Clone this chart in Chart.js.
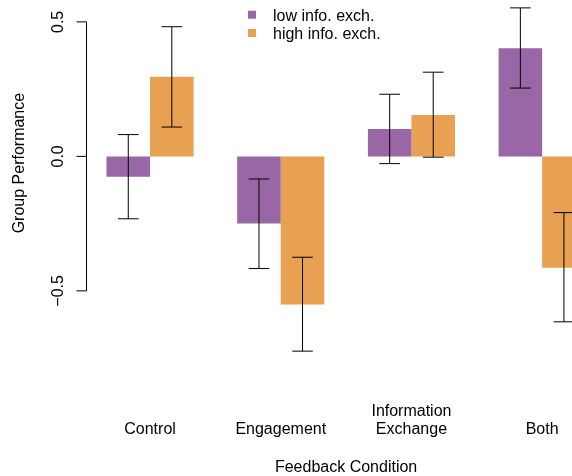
<!DOCTYPE html>
<html>
<head>
<meta charset="utf-8">
<script src="https://cdn.jsdelivr.net/npm/chart.js@4.4.0/dist/chart.umd.min.js"></script>
<style>
  html, body { margin: 0; padding: 0; background: #fff; }
  #wrap { position: relative; width: 572px; height: 476px; overflow: hidden; }
  #chart { position: absolute; left: 0; top: -33px; }
</style>
</head>
<body>
<div id="wrap"><canvas id="chart" width="620" height="509"></canvas></div>
<script>
// data
const categories = ['Control', 'Engagement', ['Information', 'Exchange'], 'Both'];
const seriesNames = ['low info. exch.', 'high info. exch.'];
const lowValues = [-0.076, -0.250, 0.102, 0.402];
const highValues = [0.296, -0.551, 0.154, -0.414];
const lowErrLower = [-0.232, -0.417, -0.027, 0.254];
const lowErrUpper = [0.081, -0.084, 0.231, 0.552];
const highErrLower = [0.109, -0.724, -0.003, -0.615];
const highErrUpper = [0.482, -0.375, 0.313, -0.209];
const yTickValues = [-0.5, 0, 0.5];
const yTickLabels = ['\u22120.5', '0.0', '0.5'];

const SHIFT = 33; // canvas is moved up so the plot region can start above the window
const FONT = '"Liberation Sans", Arial, Helvetica, sans-serif';
Chart.defaults.font.family = FONT;
Chart.defaults.font.size = 16;
Chart.defaults.color = '#000';

// R style y axis: line only between first and last tick
const rAxis = {
    id: 'rAxis',
    afterDraw(chart) {
        const ctx = chart.ctx;
        const y = chart.scales.y;
        const x = chart.chartArea.left + 1.8;
        ctx.save();
        ctx.strokeStyle = '#000';
        ctx.lineWidth = 1;
        ctx.beginPath();
        ctx.moveTo(x, y.getPixelForValue(yTickValues[0]));
        ctx.lineTo(x, y.getPixelForValue(yTickValues[yTickValues.length - 1]));
        yTickValues.forEach(function(v) {
            const py = y.getPixelForValue(v);
            ctx.moveTo(x - 10, py);
            ctx.lineTo(x, py);
        });
        ctx.stroke();
        ctx.restore();
    }
};

// error bars with caps
const errorBars = {
    id: 'errorBars',
    afterDatasetsDraw(chart) {
        const ctx = chart.ctx;
        const y = chart.scales.y;
        ctx.save();
        ctx.strokeStyle = '#000';
        ctx.lineWidth = 1;
        chart.data.datasets.forEach(function(ds, d) {
            chart.getDatasetMeta(d).data.forEach(function(bar, i) {
                const y1 = y.getPixelForValue(ds.errLower[i]);
                const y2 = y.getPixelForValue(ds.errUpper[i]);
                ctx.beginPath();
                ctx.moveTo(bar.x, y1);
                ctx.lineTo(bar.x, y2);
                ctx.moveTo(bar.x - 10.3, y1);
                ctx.lineTo(bar.x + 10.3, y1);
                ctx.moveTo(bar.x - 10.3, y2);
                ctx.lineTo(bar.x + 10.3, y2);
                ctx.stroke();
            });
        });
        ctx.restore();
    }
};

// legend like R's legend() without a box
const rLegend = {
    id: 'rLegend',
    afterDraw(chart) {
        const ctx = chart.ctx;
        ctx.save();
        ctx.font = '16px ' + FONT;
        ctx.textBaseline = 'alphabetic';
        chart.data.datasets.forEach(function(ds, i) {
            const base = SHIFT + 20.7 + i * 18.3;
            ctx.fillStyle = ds.backgroundColor;
            ctx.fillRect(248, base - 10, 8, 8);
            ctx.fillStyle = '#000';
            ctx.fillText(ds.label, 273, base);
        });
        ctx.restore();
    }
};

const ctx = document.getElementById('chart').getContext('2d');
const chart = new Chart(ctx, {
    type: 'bar',
    data: {
        labels: categories,
        datasets: [{
            label: seriesNames[0],
            data: lowValues,
            errLower: lowErrLower,
            errUpper: lowErrUpper,
            backgroundColor: '#9966A6',
            borderWidth: 0
        }, {
            label: seriesNames[1],
            data: highValues,
            errLower: highErrLower,
            errUpper: highErrUpper,
            backgroundColor: '#E8A053',
            borderWidth: 0
        }]
    },
    options: {
        responsive: false,
        animation: false,
        devicePixelRatio: 1,
        categoryPercentage: 0.6665,
        barPercentage: 1,
        layout: {
            padding: { left: 0, top: 0, right: 12.5, bottom: 0 }
        },
        plugins: {
            legend: { display: false },
            tooltip: { enabled: false }
        },
        scales: {
            x: {
                grid: { display: false, drawTicks: false },
                border: { display: false },
                ticks: {
                    padding: 52.8,
                    crossAlign: 'far',
                    maxRotation: 0,
                    autoSkip: false,
                    font: { size: 16, lineHeight: 1.125 }
                },
                title: {
                    display: true,
                    text: 'Feedback Condition',
                    font: { size: 16, lineHeight: 1 },
                    padding: { top: 0, bottom: 0 }
                },
                afterFit: function(scale) {
                    scale.height = 116.8;
                    scale.paddingLeft = 0;
                    scale.paddingRight = 0;
                }
            },
            y: {
                min: -0.754,
                max: 0.704,
                grid: { display: false, drawTicks: false },
                border: { display: false },
                ticks: {
                    stepSize: 0.5,
                    includeBounds: false,
                    minRotation: 90,
                    maxRotation: 90,
                    crossAlign: 'center',
                    padding: 10.6,
                    callback: function(value) {
                        const i = yTickValues.indexOf(value);
                        return i >= 0 ? yTickLabels[i] : '';
                    }
                },
                title: {
                    display: true,
                    text: 'Group Performance',
                    font: { size: 16 },
                    padding: { top: 10, bottom: 0 }
                },
                afterFit: function(scale) {
                    scale.width = 84.7;
                    scale.paddingTop = 0;
                    scale.paddingBottom = 0;
                }
            }
        }
    },
    plugins: [rAxis, errorBars, rLegend]
});
</script>
</body>
</html>
